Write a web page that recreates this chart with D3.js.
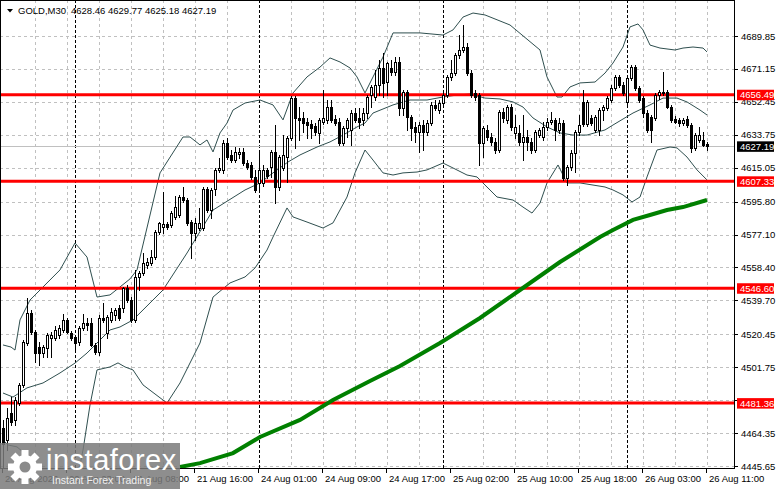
<!DOCTYPE html>
<html>
<head>
  <meta charset="utf-8">
  <title>GOLD,M30</title>
  <script src="https://d3js.org/d3.v7.min.js"></script>
  <style>
    body { margin: 0; background: #fff; }
    text { font-family: "Liberation Sans", Arial, sans-serif; }
  </style>
</head>
<body>
<div id="chart"></div>
<script>
  // candles, M30, oldest first (last bar = 26 Aug 11:00)
  const barOpen = [4467.2,4460.4,4475.8,4471.8,4481.4,4491.7,4515.5,4532.5,4521.8,4513.2,4509.8,4512.7,4518.4,4518.4,4520.1,4522.9,4528.6,4521.2,4518.9,4516.1,
    4524.0,4526.9,4526.9,4514.4,4510.4,4529.7,4521.2,4528.6,4531.4,4535.4,4535.4,4546.7,4539.9,4528.6,4553.0,4555.3,4559.8,4560.9,4564.3,4578.5,
    4581.4,4583.1,4582.5,4587.1,4588.2,4598.4,4596.7,4584.2,4578.0,4580.8,4580.8,4603.0,4591.0,4603.0,4613.8,4613.8,4629.1,4622.3,4619.4,4622.8,
    4624.0,4617.7,4616.6,4609.8,4606.4,4606.4,4613.8,4615.5,4624.0,4604.1,4614.9,4621.1,4631.9,4654.6,4643.3,4643.3,4641.0,4639.9,4638.7,4634.8,
    4641.0,4642.2,4649.5,4642.7,4641.0,4629.1,4637.6,4636.5,4646.1,4643.3,4642.2,4646.1,4656.3,4655.2,4662.0,4671.7,4663.7,4671.7,4669.4,4675.1,
    4649.0,4658.1,4643.9,4638.2,4635.3,4639.3,4635.3,4640.4,4650.7,4647.8,4651.8,4656.3,4666.6,4668.8,4679.1,4681.9,4683.6,4668.8,4657.5,4656.3,
    4629.1,4636.5,4632.5,4629.7,4625.1,4646.7,4642.2,4649.5,4634.8,4634.8,4629.7,4632.5,4629.7,4625.1,4633.6,4632.5,4638.2,4641.0,4642.2,4636.5,
    4640.4,4609.2,4615.5,4623.4,4635.3,4652.4,4639.9,4643.3,4636.5,4636.5,4647.8,4649.0,4653.5,4660.3,4666.6,4662.0,4652.4,4666.0,4672.2,4660.3,
    4654.6,4646.1,4643.9,4643.3,4656.3,4657.5,4658.1,4649.5,4642.7,4642.2,4640.4,4642.7,4639.3,4626.3,4630.8,4630.8,4628.46];
  const barHigh = [4471.8,4478.6,4484.8,4484.8,4492.8,4517.2,4541.1,4534.3,4522.9,4516.1,4514.4,4521.2,4521.8,4525.2,4525.7,4532.0,4529.7,4522.3,4520.1,4525.2,
    4532.0,4529.7,4529.7,4515.5,4531.4,4538.2,4531.4,4535.4,4535.4,4537.1,4547.3,4548.4,4541.6,4557.0,4556.4,4566.6,4563.8,4568.3,4579.7,4584.2,
    4601.3,4584.2,4590.5,4599.0,4599.6,4604.1,4597.9,4585.4,4586.5,4592.2,4604.1,4604.1,4603.5,4614.9,4620.6,4630.8,4631.9,4625.1,4626.8,4626.3,
    4626.3,4619.4,4618.3,4613.8,4625.1,4616.6,4614.9,4625.1,4639.3,4622.3,4633.6,4633.1,4655.8,4655.8,4649.5,4646.7,4643.3,4642.2,4640.4,4643.3,
    4659.2,4653.5,4653.5,4645.0,4643.3,4638.7,4643.3,4647.8,4649.0,4649.0,4649.0,4656.3,4662.0,4670.5,4676.2,4680.2,4675.1,4676.2,4677.9,4677.9,
    4659.2,4659.2,4645.0,4641.0,4641.0,4642.2,4642.2,4652.4,4653.5,4653.5,4657.5,4667.7,4676.2,4680.2,4690.4,4696.1,4685.9,4670.5,4659.2,4657.5,
    4638.7,4639.3,4634.8,4631.9,4647.8,4649.0,4650.7,4651.2,4645.0,4639.3,4645.0,4636.5,4631.9,4636.5,4637.6,4641.0,4643.3,4646.7,4643.3,4643.3,
    4642.2,4616.6,4625.1,4636.5,4645.0,4659.2,4653.5,4645.0,4645.0,4649.0,4650.7,4655.8,4662.0,4667.7,4667.7,4663.7,4667.7,4673.4,4673.4,4661.5,
    4655.8,4647.8,4645.0,4657.5,4659.2,4669.4,4659.2,4650.7,4644.4,4643.3,4643.3,4644.4,4640.4,4634.8,4638.2,4635.3,4629.77];
  const barLow = [4444.5,4454.7,4468.9,4468.9,4480.3,4490.5,4514.4,4520.6,4504.7,4503.0,4507.6,4507.6,4507.6,4517.2,4518.4,4521.8,4521.2,4517.2,4510.4,4514.4,
    4522.9,4522.9,4513.8,4509.3,4508.7,4527.4,4518.4,4527.4,4528.6,4528.6,4533.1,4538.8,4527.4,4527.4,4545.6,4554.1,4558.1,4559.8,4563.2,4577.4,
    4578.0,4580.3,4581.4,4585.9,4587.1,4595.6,4582.5,4563.8,4574.0,4579.7,4579.7,4589.9,4586.5,4599.6,4612.6,4612.1,4620.0,4618.3,4618.3,4620.6,
    4616.6,4614.3,4608.6,4601.3,4602.4,4604.7,4609.2,4609.8,4595.0,4602.4,4613.8,4606.9,4630.8,4626.3,4630.8,4635.3,4631.9,4631.9,4633.6,4629.1,
    4639.9,4640.4,4641.0,4639.3,4628.0,4628.0,4632.5,4628.0,4641.0,4637.6,4639.3,4643.3,4649.5,4653.5,4656.3,4655.2,4656.3,4667.7,4667.7,4645.0,
    4645.0,4636.5,4630.8,4629.7,4624.0,4625.1,4633.6,4639.3,4647.8,4646.1,4650.7,4655.2,4664.9,4667.7,4677.4,4680.8,4667.7,4655.2,4653.5,4616.6,
    4621.1,4630.8,4628.0,4623.4,4624.0,4641.0,4640.4,4636.5,4631.9,4628.0,4619.4,4625.1,4623.4,4624.0,4632.5,4630.8,4636.5,4639.9,4630.8,4634.8,
    4608.1,4605.2,4613.8,4612.6,4633.6,4638.7,4638.7,4639.3,4635.3,4633.6,4642.2,4647.8,4652.4,4659.2,4660.9,4656.3,4651.2,4664.9,4659.2,4652.4,
    4643.9,4635.3,4629.7,4642.2,4654.1,4656.3,4649.0,4641.0,4640.4,4638.7,4639.3,4638.2,4624.0,4625.1,4629.7,4627.4,4625.18];
  const barClose = [4458.2,4472.9,4470.6,4483.1,4491.7,4516.1,4532.5,4521.8,4509.8,4509.8,4513.2,4520.1,4520.1,4522.9,4524.0,4528.6,4521.8,4518.4,4515.5,4524.0,
    4526.9,4525.7,4514.4,4510.4,4529.7,4528.6,4530.3,4533.1,4534.3,4529.7,4546.7,4539.9,4528.6,4553.0,4555.3,4560.9,4561.5,4564.3,4578.5,4583.7,
    4583.1,4581.4,4589.3,4592.7,4598.4,4596.7,4583.7,4578.0,4583.7,4583.7,4603.0,4591.0,4602.4,4613.8,4614.9,4629.1,4621.1,4619.4,4624.0,4624.0,
    4617.7,4615.5,4609.8,4602.4,4613.8,4613.8,4610.4,4624.0,4604.1,4621.1,4622.3,4631.9,4654.6,4643.3,4642.2,4640.4,4639.3,4637.6,4635.3,4642.2,
    4643.3,4649.5,4642.2,4640.4,4629.1,4637.6,4642.2,4646.1,4642.2,4641.0,4646.1,4655.2,4660.9,4662.0,4671.7,4663.2,4674.5,4669.4,4675.1,4649.0,
    4658.1,4643.9,4637.6,4635.3,4639.3,4635.3,4640.4,4650.7,4649.0,4651.8,4656.3,4666.6,4668.8,4679.1,4681.9,4683.6,4668.8,4656.3,4655.2,4629.1,
    4637.6,4632.5,4629.7,4625.1,4646.7,4643.3,4649.5,4638.2,4638.2,4629.7,4632.5,4629.7,4625.1,4635.3,4636.5,4638.2,4641.0,4642.2,4636.5,4640.4,
    4609.2,4615.5,4623.4,4635.3,4639.3,4639.9,4652.4,4640.4,4643.9,4647.8,4649.5,4654.6,4660.3,4666.6,4662.0,4657.5,4666.0,4672.2,4660.3,4653.5,
    4646.1,4636.5,4636.5,4656.3,4658.1,4658.1,4649.5,4642.2,4641.0,4640.4,4642.2,4639.3,4626.3,4633.6,4633.6,4628.0,4627.19];

  // Bollinger bands, read at [bar, price]
  const bandUpper = [[0,4514.4],[2,4513.2],[3,4511.5],[4.25,4528.6],[6.75,4539.9],[14.25,4557.0],[18,4572.3],[21,4564.3],[23.5,4541.6],
    [26.75,4542.8],[30.5,4549.6],[31.75,4551.9],[33.5,4557.0],[39.25,4612.1],[45,4632.5],[46.75,4632.5],[49.25,4628.0],[51,4630.8],[52.5,4624.0],
    [54.25,4634.8],[56,4640.4],[57.5,4647.8],[60.5,4651.8],[64.25,4653.5],[67.5,4650.7],[70,4642.2],[72.5,4657.5],[76,4666.6],[79.25,4672.2],
    [81.75,4677.4],[84.25,4675.1],[86.75,4671.7],[88.5,4666.6],[90.5,4657.5],[92.5,4666.6],[95,4677.9],[97.5,4691.6],[100,4691.6],[104.25,4691.6],
    [110,4690.4],[112.5,4693.3],[115,4700.6],[117.5,4702.9],[120.5,4701.8],[126.75,4696.1],[134.25,4681.9],[136,4666.6],[138.5,4655.2],[139.75,4655.2],
    [141.75,4660.9],[144.25,4663.2],[148,4663.7],[150.5,4668.8],[152.5,4674.5],[155,4683.6],[156.75,4695.0],[158.75,4696.7],[160,4693.3],
    [161.75,4684.7],[164.25,4683.0],[168,4681.9],[170,4683.0],[172.5,4683.6],[175,4683.0],[176,4680.8]];
  const bandMiddle = [[0,4487.1],[2.5,4484.8],[6,4490.0],[10,4492.8],[14.25,4498.5],[18,4504.1],[21,4509.8],[24.25,4517.2],[26.75,4522.9],
    [29.25,4524.6],[32.5,4528.6],[40,4545.6],[46,4566.6],[52.5,4591.0],[60.5,4602.4],[64.25,4606.4],[67.5,4612.1],[71.25,4618.3],[74.25,4622.3],
    [78.5,4626.8],[81.75,4629.7],[85,4633.6],[88.5,4638.2],[90.5,4640.4],[92.5,4646.1],[97.5,4650.7],[101.75,4653.5],[106,4653.5],[110,4655.2],
    [113.5,4656.3],[116.75,4656.9],[120.5,4654.6],[124.25,4654.1],[127.5,4652.4],[130,4649.5],[132.5,4643.3],[136,4638.2],[139.25,4634.8],
    [142.5,4633.6],[146,4633.6],[150.5,4636.5],[152.5,4639.3],[157.5,4646.1],[161.75,4650.7],[165,4654.6],[168.5,4654.6],[171,4652.4],
    [174.25,4647.8],[176,4645.0]];
  const bandLower = [[0,4460.4],[1.25,4457.6],[3.5,4456.5],[5,4453.6],[8,4440.5],[11.75,4432.0],[16.75,4432.0],[18.75,4440.5],[20,4454.7],
    [21.75,4480.3],[23.5,4500.2],[26.75,4501.9],[28.75,4504.2],[30.5,4501.9],[32.5,4500.2],[35,4491.7],[41,4481.4],[44.25,4492.8],[49.25,4515.5],
    [52.5,4541.6],[56.75,4549.6],[60.5,4553.0],[63,4558.1],[66,4568.3],[67.5,4575.7],[71,4592.2],[72.5,4587.1],[76,4584.2],[80,4580.8],
    [82.5,4583.7],[86,4598.4],[88,4612.1],[90.5,4625.1],[92.5,4619.4],[95,4612.1],[97.5,4610.9],[100,4612.1],[103.5,4612.6],[106,4613.8],
    [110,4617.7],[112.5,4614.9],[116,4610.9],[118.5,4609.8],[120.5,4605.2],[121.75,4602.4],[123.5,4598.4],[127.5,4596.7],[130,4592.7],
    [132.25,4589.3],[134.25,4595.0],[136,4606.4],[138.75,4616.6],[141,4606.4],[144.25,4606.4],[147.5,4605.2],[150.5,4604.1],[152.5,4602.4],
    [155,4599.6],[157.25,4595.6],[159.25,4598.4],[161,4609.8],[163.5,4625.1],[166.75,4626.8],[168.5,4626.3],[171,4621.1],[173.5,4613.8],[176,4608.1]];
  // slow moving average (green)
  const slowMA = [[44.25,4445.1],[49.25,4447.3],[57.5,4453.0],[64.25,4462.1],[74.25,4471.8],[82.5,4483.1],[91.75,4493.9],[99.25,4502.4],
    [109.25,4515.5],[119.25,4529.7],[129.25,4545.6],[139.25,4561.5],[149.25,4575.7],[152.5,4579.7],[157.5,4585.4],[161.75,4588.2],
    [166,4591.0],[170,4592.7],[176,4596.7]];

  const levels = [4656.49, 4607.33, 4546.60, 4481.36];
  const priceTicks = [4689.85, 4671.15, 4652.45, 4633.75, 4615.05, 4595.80, 4577.10, 4558.40, 4539.70, 4520.45, 4501.75, 4483.05, 4464.35, 4445.65];
  const hiddenTicks = [4483.05];
  const timeLabels = ["20 Aug 2026", "20 Aug 23:00", "21 Aug 08:00", "21 Aug 16:00", "24 Aug 01:00", "24 Aug 09:00",
    "24 Aug 17:00", "25 Aug 02:00", "25 Aug 10:00", "25 Aug 18:00", "26 Aug 03:00", "26 Aug 11:00"];
  const timeLabelBars = [0, 16, 32, 48, 64, 80, 96, 112, 128, 144, 160, 176];
  const daySeparators = [18, 64, 110, 156];

  const W = 781, H = 489;
  const plotRight = 734, plotBottom = 468;
  const n = barClose.length;

  const svg = d3.select("#chart").append("svg")
    .attr("width", W).attr("height", H)
    .style("display", "block");

  const x = d3.scaleLinear().domain([0, n - 1]).range([3, 707]);
  const y = d3.scaleLinear().domain([4445.65, 4689.85]).range([466, 36]);

  const plot = svg.append("g");
  svg.append("defs").append("clipPath").attr("id", "clip")
    .append("rect").attr("x", 0).attr("y", 0).attr("width", plotRight).attr("height", plotBottom);
  plot.attr("clip-path", "url(#clip)");

  // grid
  const gridBars = d3.range(8, n, 8).filter(b => b !== 64 && b !== 112);
  plot.selectAll(".vgrid").data(gridBars).join("line")
    .attr("x1", d => Math.round(x(d)) + 0.5).attr("x2", d => Math.round(x(d)) + 0.5)
    .attr("y1", 0).attr("y2", plotBottom)
    .attr("stroke", "#c0c0c0").attr("stroke-dasharray", "3,3");
  plot.selectAll(".hgrid").data(priceTicks).join("line")
    .attr("x1", 0).attr("x2", plotRight)
    .attr("y1", d => Math.round(y(d)) + 0.5).attr("y2", d => Math.round(y(d)) + 0.5)
    .attr("stroke", "#c0c0c0").attr("stroke-dasharray", "3,3");
  plot.selectAll(".sep").data(daySeparators).join("line")
    .attr("x1", d => Math.round(x(d)) + 0.5).attr("x2", d => Math.round(x(d)) + 0.5)
    .attr("y1", 0).attr("y2", plotBottom)
    .attr("stroke", "#000").attr("stroke-dasharray", "3,2");

  // current price line
  const last = barClose[n - 1];
  plot.append("line")
    .attr("x1", 0).attr("x2", plotRight)
    .attr("y1", Math.round(y(last)) + 0.5).attr("y2", Math.round(y(last)) + 0.5)
    .attr("stroke", "#c0c0c0");

  // bands
  const bandLine = d3.line().x(d => x(d[0])).y(d => y(d[1]));
  [bandUpper, bandMiddle, bandLower].forEach(b => {
    plot.append("path").attr("d", bandLine(b))
      .attr("fill", "none").attr("stroke", "#2f4f4f").attr("stroke-width", 1);
  });

  // levels
  plot.selectAll(".lvl").data(levels).join("line")
    .attr("x1", 0).attr("x2", plotRight)
    .attr("y1", d => y(d)).attr("y2", d => y(d))
    .attr("stroke", "#ff0000").attr("stroke-width", 3);

  // slow MA
  plot.append("path").attr("d", bandLine(slowMA))
    .attr("fill", "none").attr("stroke", "#008000").attr("stroke-width", 4);

  // candles
  const candles = plot.append("g").attr("shape-rendering", "crispEdges");
  const idx = d3.range(n);
  candles.selectAll(".wick").data(idx).join("line")
    .attr("x1", i => Math.round(x(i)) + 0.5).attr("x2", i => Math.round(x(i)) + 0.5)
    .attr("y1", i => Math.round(y(barHigh[i]))).attr("y2", i => Math.round(y(barLow[i])) + 1)
    .attr("stroke", "#000");
  candles.selectAll(".body").data(idx).join("rect")
    .attr("x", i => Math.round(x(i)) - 0.5)
    .attr("y", i => Math.round(y(Math.max(barOpen[i], barClose[i]))) + 0.5)
    .attr("width", 2)
    .attr("height", i => Math.max(0, Math.round(y(Math.min(barOpen[i], barClose[i]))) - Math.round(y(Math.max(barOpen[i], barClose[i])))))
    .attr("fill", i => barClose[i] >= barOpen[i] ? "#fff" : "#000")
    .attr("stroke", "#000");

  // frame
  svg.append("line").attr("x1", plotRight + 0.5).attr("x2", plotRight + 0.5).attr("y1", 0).attr("y2", plotBottom + 1).attr("stroke", "#000");
  svg.append("line").attr("x1", 0).attr("x2", plotRight + 1).attr("y1", plotBottom + 0.5).attr("y2", plotBottom + 0.5).attr("stroke", "#000");
  svg.append("line").attr("x1", 0.5).attr("x2", 0.5).attr("y1", 0).attr("y2", plotBottom).attr("stroke", "#000");
  svg.append("line").attr("x1", 0).attr("x2", plotRight).attr("y1", 0.5).attr("y2", 0.5).attr("stroke", "#000");

  // price axis
  const axisG = svg.append("g");
  axisG.selectAll(".ptick").data(priceTicks).join("line")
    .attr("x1", plotRight).attr("x2", plotRight + 4)
    .attr("y1", d => Math.round(y(d)) + 0.5).attr("y2", d => Math.round(y(d)) + 0.5)
    .attr("stroke", "#000");
  axisG.selectAll(".plabel").data(priceTicks.filter(t => !hiddenTicks.includes(t))).join("text")
    .attr("x", 741).attr("y", d => y(d) + 3.5)
    .attr("font-size", "9.5px").attr("fill", "#000")
    .text(d => d.toFixed(2));

  // level tags
  const tags = levels.map(v => ({ v: v, bg: "#ff0000" })).concat([{ v: last, bg: "#000" }]);
  tags.forEach(t => {
    axisG.append("rect").attr("x", 737).attr("y", y(t.v) - 5).attr("width", 37).attr("height", 10.5).attr("fill", t.bg);
    axisG.append("text").attr("x", 740).attr("y", y(t.v) + 3.6)
      .attr("font-size", "9.5px").attr("fill", "#fff").text(t.v.toFixed(2));
  });

  // time axis
  svg.selectAll(".ttick").data(timeLabelBars).join("line")
    .attr("x1", d => Math.round(x(d)) - 0.5).attr("x2", d => Math.round(x(d)) - 0.5)
    .attr("y1", plotBottom).attr("y2", plotBottom + 5)
    .attr("stroke", "#000");
  svg.selectAll(".tlabel").data(timeLabelBars).join("text")
    .attr("x", d => x(d) + 2).attr("y", 482)
    .attr("font-size", "9.5px").attr("fill", "#000")
    .text((d, i) => timeLabels[i]);

  // header
  svg.append("path").attr("d", "M7,9 L13,9 L10,12.5 Z").attr("fill", "#000");
  svg.append("text").attr("x", 18).attr("y", 14).attr("font-size", "9.5px").attr("fill", "#000").text("GOLD,M30");
  svg.append("text").attr("x", 71).attr("y", 14).attr("font-size", "9.5px").attr("fill", "#000")
    .text([barOpen[n - 1], barHigh[n - 1], barLow[n - 1], barClose[n - 1]].map(v => v.toFixed(2)).join(" "));

  // watermark
  const wm = svg.append("g");
  wm.append("rect").attr("x", 0).attr("y", 443).attr("width", 180).attr("height", 46)
    .attr("fill", "#7a7a7a").attr("opacity", 0.85);
  const gear = wm.append("g").attr("transform", "translate(25,467)").attr("fill", "#fff");
  d3.range(8).forEach(k => {
    gear.append("rect").attr("x", -3.5).attr("y", -17).attr("width", 7).attr("height", 8)
      .attr("transform", `rotate(${k * 45})`);
  });
  gear.append("circle").attr("r", 12);
  gear.append("circle").attr("r", 5.5).attr("fill", "#8a8a8a");
  wm.append("text").attr("x", 46).attr("y", 470).attr("font-size", "29px").attr("fill", "#fff")
    .attr("letter-spacing", "0.5px").text("instaforex");
  wm.append("text").attr("x", 52).attr("y", 484).attr("font-size", "10.5px").attr("fill", "#f0f0f0")
    .text("Instant Forex Trading");
</script>
</body>
</html>
